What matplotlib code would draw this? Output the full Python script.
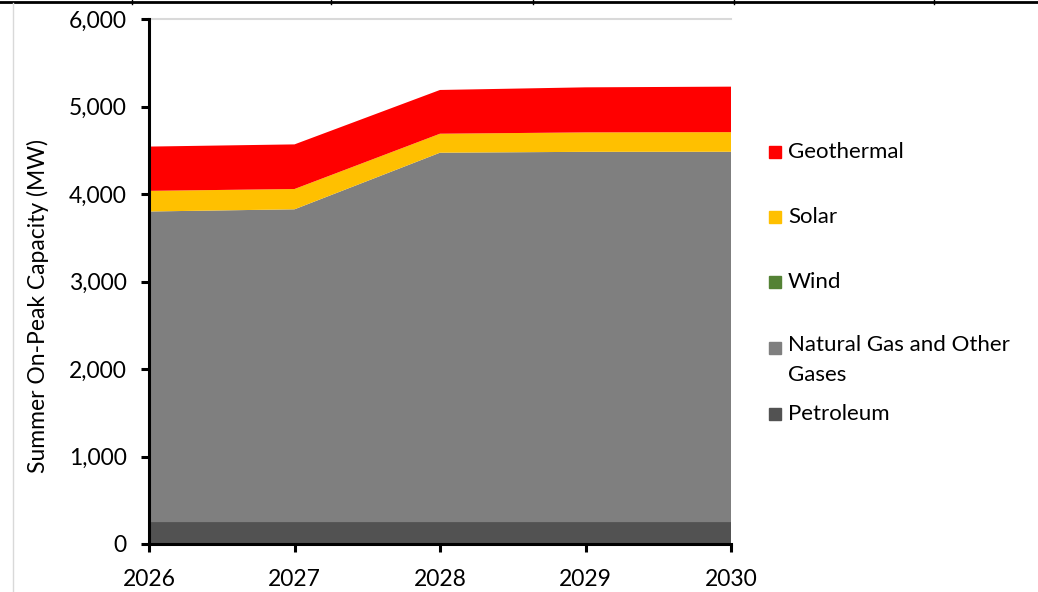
import matplotlib.pyplot as plt
from matplotlib.lines import Line2D
from matplotlib.patches import Rectangle

plt.rcParams['font.family'] = ['Lato', 'DejaVu Sans']

# data (MW)
years = [2026, 2027, 2028, 2029, 2030]
petroleum = [250, 250, 250, 250, 250]
natural_gas = [3550, 3575, 4222, 4232, 4233]
wind = [0, 0, 0, 0, 0]
solar = [236, 232, 217, 222, 224]
geothermal = [506, 510, 500, 515, 520]

names = ["Petroleum", "Natural Gas and Other\nGases", "Wind", "Solar", "Geothermal"]
colors = ["#525252", "#7f7f7f", "#548235", "#ffc000", "#ff0000"]

fig = plt.figure(figsize=(10.38, 5.92), dpi=100)
ax = fig.add_axes([149 / 1038, 1 - 544 / 592, (731 - 149) / 1038, (544 - 19) / 592])

ax.stackplot(years, petroleum, natural_gas, wind, solar, geothermal,
             colors=colors, linewidth=0)

ax.set_xlim(2026, 2030)
ax.set_ylim(0, 6000)
ax.set_xticks(years)
ax.set_yticks(range(0, 6001, 1000))
ax.set_yticklabels([f"{v:,}" for v in range(0, 6001, 1000)])
ax.axhline(6000, color="#d9d9d9", lw=1.5, zorder=0, clip_on=False)

for s in ["top", "right"]:
    ax.spines[s].set_visible(False)
for s in ["left", "bottom"]:
    ax.spines[s].set_linewidth(2.2)
ax.tick_params(axis="both", direction="out", length=6, width=2.2, labelsize=16.5,
               colors="black")
ax.tick_params(axis="y", pad=10)
ax.tick_params(axis="x", pad=12)

# y label (placed like Excel does)
fig.text(38 / 1038, 1 - 306 / 592, "Summer On-Peak Capacity (MW)", fontsize=16.5,
         rotation=90, ha="center", va="center")

# legend, top to bottom
y_pos = [152, 217, 282, 348, 414]
for i, idx in enumerate([4, 3, 2, 1, 0]):
    y = 1 - y_pos[i] / 592
    fig.add_artist(Rectangle((769 / 1038, y - 6 / 592), 12 / 1038, 12 / 592,
                             transform=fig.transFigure, color=colors[idx]))
    if "\n" in names[idx]:
        fig.text(788 / 1038, 1 - (348 - 13) / 592, names[idx], fontsize=16,
                 va="top", linespacing=1.6)
    else:
        fig.text(788 / 1038, y, names[idx], fontsize=16, va="center")

# page borders
fig.add_artist(Line2D([0, 1], [1 - 1.5 / 592, 1 - 1.5 / 592], color="black", lw=2))
for x in [132, 331, 533, 734, 934]:
    fig.add_artist(Line2D([x / 1038, x / 1038], [1, 1 - 4 / 592], color="black", lw=1))
fig.add_artist(Line2D([13 / 1038, 13 / 1038], [0, 1 - 3 / 592], color="#d9d9d9", lw=1))

fig.savefig("out.png", dpi=100)
